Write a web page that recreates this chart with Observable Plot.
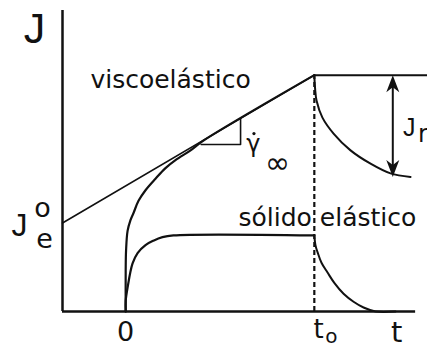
<!DOCTYPE html>
<html>
<head>
<meta charset="utf-8">
<script src="https://cdn.jsdelivr.net/npm/d3@7"></script>
<script src="https://cdn.jsdelivr.net/npm/@observablehq/plot@0.6"></script>
<style>
  html, body { margin: 0; padding: 0; background: #fff; }
  #chart svg { display: block; }
</style>
</head>
<body>
<div id="chart"></div>
<script>
// ---- data (t in units where t_o = 10; J in compliance units where J_e^o = 1) ----
const t0 = 0;
const tO = 10;
const JeO = 1.0;
const Jpeak = 2.67;
const Jsolid = 0.86;
const Jrecovered = 1.52;
const yAxisT = -3.35;
const xAxisEnd = 15.37;

// viscoelastic creep curve (before merging with the asymptote)
const viscoT = [0, 0, 0.02, 0.1, 0.25, 0.41, 0.68, 1.05, 1.58, 2.11, 2.64, 3.44, 4.12, 10];
const viscoJ = [0, 0.46, 0.69, 0.91, 1.03, 1.11, 1.25, 1.37, 1.50, 1.62, 1.71, 1.82, 1.93, 2.67];

// viscoelastic recovery after t_o
const recovT = [10, 10.04, 10.12, 10.43, 11.02, 11.92, 12.98, 14.04, 15.1];
const recovJ = [2.67, 2.52, 2.38, 2.19, 2.01, 1.82, 1.67, 1.56, 1.52];

// elastic solid creep
const solidT = [0, 0, 0.1, 0.36, 0.63, 1.05, 1.47, 1.95, 2.53, 10];
const solidJ = [0, 0.12, 0.27, 0.54, 0.66, 0.75, 0.80, 0.84, 0.86, 0.86];

// elastic solid recovery
const solidRecT = [10, 10.06, 10.17, 10.38, 10.70, 11.07, 11.55, 12.08, 12.61, 13.25, 14.3];
const solidRecJ = [0.86, 0.75, 0.67, 0.55, 0.44, 0.32, 0.20, 0.11, 0.045, 0, 0];

// slope triangle
const triT = [4.0, 6.09, 6.09];
const triJ = [1.886, 1.886, 2.18];

// labels
const sans = "Liberation Sans";
const lucida = "DejaVu Sans";
const labels = [
  {t: -4.84, J: 3.03, text: "J", size: 43, anchor: "middle", font: sans},
  {t: -1.87, J: 2.52, text: "viscoelástico", size: 25, anchor: "start", font: lucida},
  {t: 5.98, J: 0.971, text: "sólido elástico", size: 25, anchor: "start", font: lucida},
  {t: 6.77, J: 1.807, text: "γ", size: 24, anchor: "middle", font: lucida},
  {t: 8.05, J: 1.565, text: "∞", size: 30, anchor: "middle", font: lucida},
  {t: -5.63, J: 0.858, text: "J", size: 32, anchor: "middle", font: sans},
  {t: -4.41, J: 1.062, text: "o", size: 27, anchor: "middle", font: lucida},
  {t: -4.30, J: 0.712, text: "e", size: 27, anchor: "middle", font: lucida},
  {t: 0, J: -0.328, text: "0", size: 27, anchor: "middle", font: lucida},
  {t: 10.22, J: -0.294, text: "t", size: 26, anchor: "middle", font: lucida},
  {t: 10.91, J: -0.361, text: "o", size: 20, anchor: "middle", font: lucida},
  {t: 14.36, J: -0.35, text: "t", size: 29, anchor: "middle", font: lucida},
  {t: 14.70, J: 1.988, text: "J", size: 25, anchor: "start", font: sans},
  {t: 15.50, J: 1.92, text: "r", size: 24, anchor: "start", font: lucida}
];
// dot of the rate symbol
const rateDot = [{t: 6.80, J: 2.01}];

const zip = (T, J) => T.map((t, i) => ({t, J: J[i]}));

const arrowHead = {
  draw(ctx) {
    ctx.moveTo(0, 0);
    ctx.lineTo(6.5, 17);
    ctx.lineTo(0, 12);
    ctx.lineTo(-6.5, 17);
    ctx.closePath();
  }
};

const ink = "#111";

const chart = Plot.plot({
  width: 427,
  height: 349,
  marginLeft: 62,
  marginRight: 0,
  marginTop: 10,
  marginBottom: 38,
  x: {domain: [yAxisT, 16], axis: null},
  y: {domain: [0, 3.4], axis: null},
  style: {fontFamily: "DejaVu Sans", background: "#fff", color: ink},
  marks: [
    // axes
    Plot.ruleX([yAxisT], {y1: 0, y2: 3.4, stroke: ink, strokeWidth: 2.5}),
    Plot.ruleY([0], {x1: yAxisT, x2: xAxisEnd, stroke: ink, strokeWidth: 2.5}),
    // asymptote
    Plot.line([{t: yAxisT, J: JeO}, {t: tO, J: Jpeak}], {x: "t", y: "J", stroke: ink, strokeWidth: 1.6}),
    // plateau after t_o
    Plot.line([{t: tO, J: Jpeak}, {t: 16, J: Jpeak}], {x: "t", y: "J", stroke: ink, strokeWidth: 2}),
    // curves
    Plot.line(zip(viscoT, viscoJ), {x: "t", y: "J", stroke: ink, strokeWidth: 2.2, curve: "catmull-rom"}),
    Plot.line(zip(recovT, recovJ), {x: "t", y: "J", stroke: ink, strokeWidth: 2, curve: "catmull-rom"}),
    Plot.line(zip(solidT, solidJ), {x: "t", y: "J", stroke: ink, strokeWidth: 2.2, curve: "catmull-rom"}),
    Plot.line(zip(solidRecT, solidRecJ), {x: "t", y: "J", stroke: ink, strokeWidth: 2, curve: "catmull-rom"}),
    // slope triangle
    Plot.line(zip(triT, triJ), {x: "t", y: "J", stroke: ink, strokeWidth: 1.6}),
    // dashed t_o line
    Plot.ruleX([tO], {y1: 0, y2: Jpeak, stroke: ink, strokeWidth: 2.2, strokeDasharray: "5,3"}),
    // J_r double arrow
    Plot.ruleX([14.16], {y1: Jrecovered + 0.1, y2: Jpeak - 0.1, stroke: ink, strokeWidth: 2}),
    Plot.dot([{t: 14.16, J: Jpeak}], {x: "t", y: "J", symbol: arrowHead, fill: ink, stroke: "none", r: 5}),
    Plot.dot([{t: 14.16, J: Jrecovered}], {x: "t", y: "J", symbol: arrowHead, fill: ink, stroke: "none", r: 5, rotate: 180}),
    // dot over gamma
    Plot.dot(rateDot, {x: "t", y: "J", r: 1.6, fill: ink, stroke: "none"}),
    // labels
    ...labels.map(d => Plot.text([d], {x: "t", y: "J", text: "text", fontSize: d.size, fontFamily: d.font, textAnchor: d.anchor, lineAnchor: "bottom", fill: ink}))
  ]
});
document.getElementById("chart").appendChild(chart);
</script>
</body>
</html>
